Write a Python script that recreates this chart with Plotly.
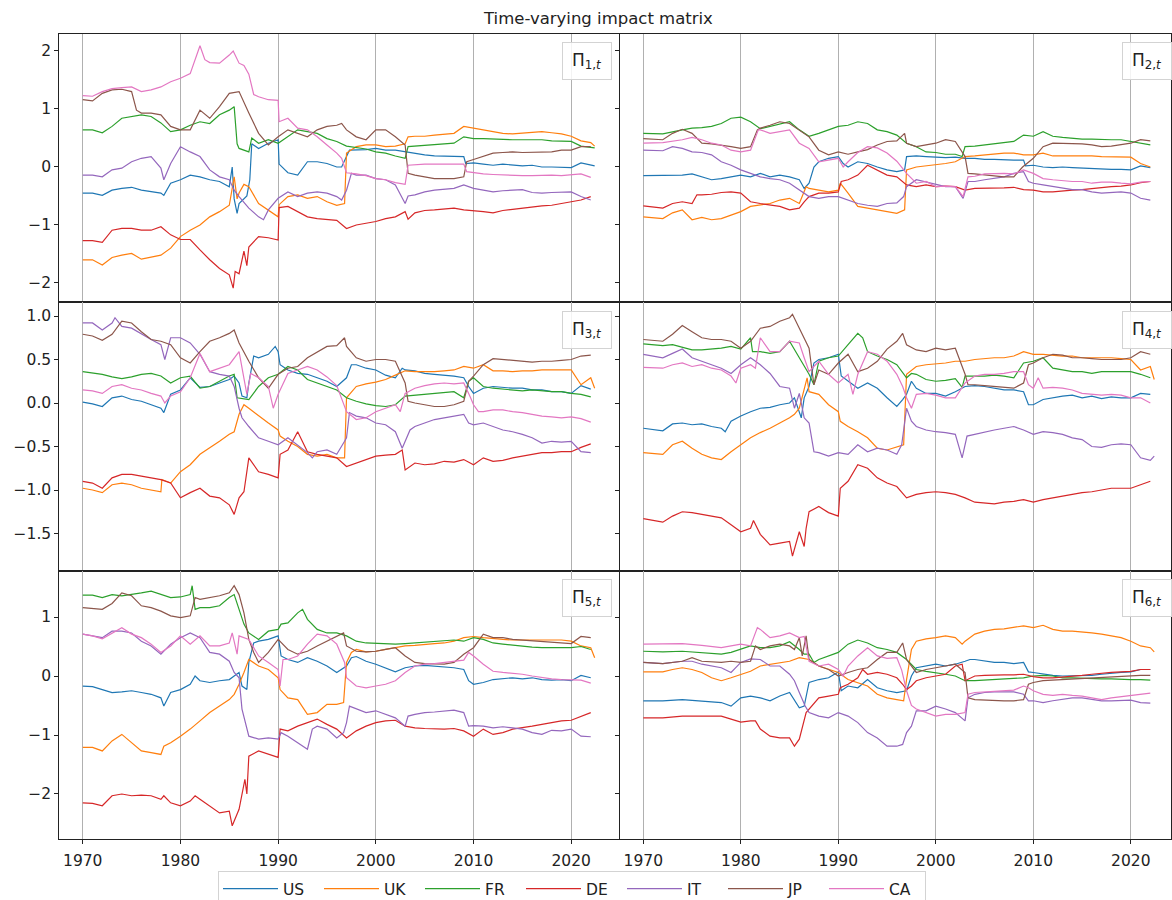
import plotly.graph_objects as go

# ---- series labels and colours ----
COUNTRIES = ["US", "UK", "FR", "DE", "IT", "JP", "CA"]
COLORS = ["#1f77b4", "#ff7f0e", "#2ca02c", "#d62728", "#9467bd", "#8c564b", "#e377c2"]
DECADES = [1970, 1980, 1990, 2000, 2010, 2020]
PANEL_LABELS = ["Π<sub>1,<i>t</i></sub>", "Π<sub>2,<i>t</i></sub>", "Π<sub>3,<i>t</i></sub>",
                "Π<sub>4,<i>t</i></sub>", "Π<sub>5,<i>t</i></sub>", "Π<sub>6,<i>t</i></sub>"]
ROW_TICKS = [[-2, -1, 0, 1, 2], [-1.5, -1.0, -0.5, 0.0, 0.5, 1.0], [-2, -1, 0, 1]]
ROW_DECIMALS = [0, 1, 0]

# ---- Pi_1,t : (year, value) ----
P1_US = [(1970,-0.45),(1971,-0.45),(1972,-0.49),(1973,-0.40),(1974,-0.37),(1975,-0.35),(1976,-0.40),(1977,-0.43),(1978,-0.45),(1978.3,-0.49),(1979,-0.28),(1980,-0.22),(1981,-0.14),(1982,-0.17),(1983,-0.22),(1984,-0.25),(1985,-0.34),(1985.3,0.0),(1985.5,-0.55),(1985.8,-0.8),(1986,-0.63),(1986.8,-0.5),(1987.1,-0.22),(1987.3,0.4),(1988,0.32),(1989,0.41),(1990,0.47),(1990.1,0.05),(1991,-0.10),(1992,-0.14),(1993,0.09),(1994,0.09),(1995,0.06),(1996,0.0),(1996.5,0.0),(1997.3,0.29),(1998,0.29),(1999,0.30),(2000,0.32),(2001,0.29),(2002,0.29),(2003,0.26),(2004,0.24),(2005,0.21),(2006,0.19),(2007,0.19),(2008,0.19),(2009,0.18),(2009.2,0.06),(2010,0.07),(2011,0.05),(2012,0.03),(2013,0.05),(2014,0.03),(2015,0.02),(2016,0.03),(2017,0.0),(2018,0.0),(2019,0.0),(2020,-0.01),(2021,0.07),(2022,0.03),(2022.4,0.02)]
P1_UK = [(1970,-1.60),(1971,-1.60),(1972,-1.69),(1973,-1.56),(1974,-1.52),(1975,-1.49),(1976,-1.59),(1977,-1.56),(1978,-1.52),(1979,-1.40),(1980,-1.20),(1981,-1.09),(1982,-1.0),(1983,-0.86),(1984,-0.77),(1985,-0.66),(1985.5,-0.17),(1985.8,-0.55),(1986,-0.45),(1986.5,-0.30),(1987,-0.34),(1988,-0.63),(1989,-0.74),(1990,-0.86),(1990.1,-0.65),(1991,-0.51),(1992,-0.48),(1993,-0.54),(1994,-0.51),(1995,-0.60),(1996,-0.66),(1996.8,-0.63),(1997,0.24),(1998,0.35),(1999,0.38),(2000,0.38),(2001,0.35),(2002,0.36),(2003,0.40),(2003.3,0.52),(2004,0.53),(2005,0.53),(2006,0.55),(2007,0.56),(2008,0.58),(2009,0.70),(2010,0.67),(2011,0.64),(2012,0.60),(2013,0.58),(2014,0.57),(2015,0.58),(2016,0.59),(2017,0.61),(2018,0.59),(2019,0.57),(2020,0.53),(2021,0.45),(2022,0.42),(2022.4,0.36)]
P1_FR = [(1970,0.64),(1971,0.64),(1972,0.59),(1973,0.70),(1974,0.84),(1975,0.87),(1976,0.90),(1977,0.87),(1978,0.76),(1979,0.61),(1980,0.64),(1981,0.72),(1982,0.78),(1983,0.75),(1984,0.90),(1985,0.98),(1985.5,1.04),(1985.8,0.40),(1986,0.32),(1987,0.26),(1987.3,0.50),(1988,0.41),(1989,0.47),(1990,0.41),(1991,0.52),(1992,0.64),(1993,0.61),(1994,0.58),(1995,0.49),(1996,0.44),(1997,0.36),(1998,0.34),(1999,0.31),(2000,0.26),(2001,0.24),(2002,0.19),(2003,0.15),(2003.3,0.35),(2004,0.36),(2005,0.38),(2006,0.39),(2007,0.40),(2008,0.41),(2009,0.52),(2010,0.49),(2011,0.49),(2012,0.48),(2013,0.48),(2014,0.47),(2015,0.47),(2016,0.47),(2017,0.47),(2018,0.45),(2019,0.45),(2020,0.44),(2021,0.36),(2022,0.34),(2022.4,0.33)]
P1_DE = [(1970,-1.27),(1971,-1.27),(1972,-1.30),(1973,-1.09),(1974,-1.06),(1975,-1.06),(1976,-1.09),(1977,-1.09),(1978,-1.03),(1979,-1.17),(1980,-1.25),(1981,-1.25),(1982,-1.43),(1983,-1.60),(1984,-1.75),(1985,-1.86),(1985.4,-2.09),(1985.6,-1.8),(1986,-1.84),(1986.5,-1.45),(1986.8,-1.7),(1987,-1.38),(1988,-1.20),(1989,-1.22),(1990,-1.26),(1990.1,-0.70),(1991,-0.68),(1992,-0.77),(1993,-0.86),(1994,-0.89),(1995,-0.91),(1996,-0.92),(1997,-1.06),(1998,-1.0),(1999,-0.97),(2000,-0.94),(2001,-0.89),(2002,-0.86),(2003,-0.77),(2003.3,-0.9),(2004,-0.79),(2005,-0.75),(2006,-0.74),(2007,-0.73),(2008,-0.71),(2009,-0.74),(2010,-0.75),(2011,-0.77),(2012,-0.79),(2013,-0.75),(2014,-0.73),(2015,-0.71),(2016,-0.68),(2017,-0.67),(2018,-0.66),(2019,-0.63),(2020,-0.61),(2021,-0.57),(2022,-0.51)]
P1_IT = [(1970,-0.14),(1971,-0.14),(1972,-0.17),(1973,-0.05),(1974,-0.02),(1975,0.09),(1976,0.15),(1977,0.18),(1978,-0.02),(1978.3,-0.22),(1979,0.06),(1980,0.35),(1981,0.26),(1982,0.18),(1983,-0.05),(1984,-0.17),(1985,-0.22),(1985.5,-0.40),(1986,-0.51),(1987,-0.71),(1988,-0.86),(1988.5,-0.91),(1989,-0.74),(1990,-0.54),(1991,-0.43),(1992,-0.51),(1993,-0.45),(1994,-0.43),(1995,-0.45),(1996,-0.51),(1996.5,-0.57),(1997,-0.40),(1997.5,-0.11),(1998,-0.14),(1999,-0.14),(2000,-0.20),(2001,-0.22),(2002,-0.31),(2003,-0.63),(2003.3,-0.50),(2004,-0.48),(2005,-0.43),(2006,-0.40),(2007,-0.39),(2008,-0.37),(2009,-0.31),(2010,-0.37),(2011,-0.40),(2012,-0.43),(2013,-0.41),(2014,-0.40),(2015,-0.39),(2016,-0.44),(2017,-0.45),(2018,-0.44),(2019,-0.43),(2020,-0.43),(2021,-0.51),(2022,-0.57)]
P1_JP = [(1970,1.16),(1971,1.14),(1972,1.27),(1973,1.33),(1974,1.34),(1975,1.30),(1975.5,0.98),(1976,0.93),(1977,0.93),(1978,0.90),(1979,0.70),(1980,0.64),(1981,0.64),(1982,0.98),(1983,0.84),(1984,1.04),(1985,1.27),(1986,1.30),(1987,0.93),(1988,0.58),(1989,0.38),(1990,0.52),(1991,0.64),(1992,0.58),(1993,0.52),(1994,0.64),(1995,0.70),(1996,0.72),(1996.5,0.75),(1997,0.64),(1998,0.52),(1999,0.47),(2000,0.64),(2001,0.64),(2002,0.52),(2003,0.38),(2003.3,-0.11),(2004,-0.14),(2005,-0.17),(2006,-0.20),(2007,-0.20),(2008,-0.20),(2009,-0.17),(2009.3,0.09),(2010,0.13),(2011,0.18),(2012,0.24),(2013,0.25),(2014,0.26),(2015,0.25),(2016,0.25),(2017,0.26),(2018,0.26),(2019,0.29),(2020,0.29),(2021,0.35),(2022,0.35)]
P1_CA = [(1970,1.23),(1971,1.22),(1972,1.30),(1973,1.35),(1974,1.37),(1975,1.38),(1976,1.30),(1977,1.33),(1978,1.38),(1979,1.47),(1980,1.53),(1981,1.61),(1982,2.09),(1982.5,1.85),(1983,1.80),(1984,1.79),(1985,1.93),(1985.4,2.0),(1986,1.79),(1986.5,1.75),(1987,1.60),(1987.5,1.25),(1988,1.21),(1989,1.16),(1990,1.15),(1990.1,0.78),(1991,0.84),(1992,0.67),(1993,0.64),(1994,0.52),(1995,0.38),(1996,0.24),(1996.5,0.15),(1997,-0.10),(1998,-0.12),(1999,-0.15),(2000,-0.20),(2001,-0.22),(2002,-0.27),(2003,-0.30),(2003.3,0.03),(2004,0.04),(2005,0.05),(2006,0.05),(2007,0.05),(2008,0.04),(2009,0.05),(2009.3,-0.08),(2010,-0.10),(2011,-0.12),(2012,-0.13),(2013,-0.14),(2014,-0.15),(2015,-0.15),(2016,-0.15),(2017,-0.14),(2018,-0.14),(2019,-0.15),(2020,-0.14),(2021,-0.12),(2022,-0.18)]

# ---- Pi_2,t ----
P2_US = [(1970,-0.15),(1972,-0.15),(1974,-0.14),(1975,-0.12),(1976,-0.17),(1977,-0.22),(1978,-0.20),(1979,-0.17),(1980,-0.14),(1981,-0.17),(1982,-0.11),(1983,-0.17),(1984,-0.14),(1985,-0.17),(1986,-0.22),(1986.5,-0.37),(1987,-0.28),(1987.5,0.0),(1988,0.09),(1989,0.15),(1990,0.18),(1990.5,0.06),(1991,0.0),(1992,0.09),(1993,0.06),(1994,0.0),(1995,-0.05),(1996,-0.08),(1996.8,-0.05),(1997,0.18),(1998,0.19),(1999,0.18),(2000,0.17),(2001,0.16),(2002,0.17),(2003,0.15),(2004,0.15),(2005,0.13),(2006,0.13),(2007,0.12),(2008,0.12),(2009,0.12),(2009.2,0.02),(2010,0.03),(2011,0.0),(2012,-0.01),(2013,0.0),(2014,-0.01),(2015,-0.02),(2016,-0.02),(2017,-0.04),(2018,-0.04),(2019,-0.04),(2020,-0.05),(2021,0.02),(2022,-0.01)]
P2_UK = [(1970,-0.86),(1972,-0.89),(1973,-0.79),(1974,-0.74),(1975,-0.91),(1976,-0.87),(1977,-0.91),(1978,-0.89),(1979,-0.83),(1980,-0.77),(1981,-0.68),(1982,-0.66),(1983,-0.63),(1984,-0.57),(1985,-0.54),(1986,-0.63),(1986.7,-0.34),(1987,-0.37),(1988,-0.40),(1989,-0.43),(1990,-0.40),(1990.2,-0.28),(1991,-0.45),(1992,-0.68),(1993,-0.71),(1994,-0.74),(1995,-0.77),(1996,-0.80),(1996.8,-0.74),(1997,-0.05),(1998,0.0),(1999,0.02),(2000,0.03),(2001,0.06),(2002,0.09),(2003,0.18),(2004,0.19),(2005,0.21),(2006,0.22),(2007,0.24),(2008,0.24),(2009,0.21),(2010,0.21),(2011,0.24),(2012,0.19),(2013,0.19),(2014,0.20),(2015,0.19),(2016,0.19),(2017,0.18),(2018,0.18),(2019,0.18),(2020,0.17),(2021,0.06),(2022,0.0)]
P2_FR = [(1970,0.58),(1972,0.57),(1974,0.64),(1975,0.67),(1976,0.68),(1977,0.70),(1978,0.75),(1979,0.84),(1980,0.86),(1981,0.78),(1982,0.66),(1983,0.70),(1984,0.75),(1985,0.78),(1986,0.64),(1987,0.53),(1988,0.58),(1989,0.64),(1990,0.70),(1991,0.72),(1992,0.78),(1993,0.75),(1994,0.64),(1995,0.61),(1996,0.55),(1997,0.41),(1998,0.35),(1999,0.26),(2000,0.25),(2001,0.22),(2002,0.22),(2002.7,0.18),(2003,0.35),(2004,0.36),(2005,0.38),(2006,0.40),(2007,0.42),(2008,0.44),(2009,0.55),(2010,0.53),(2011,0.61),(2012,0.53),(2013,0.51),(2014,0.49),(2015,0.48),(2016,0.48),(2017,0.47),(2018,0.47),(2019,0.47),(2020,0.44),(2021,0.41),(2022,0.38)]
P2_DE = [(1970,-0.67),(1972,-0.71),(1973,-0.63),(1974,-0.60),(1975,-0.63),(1975.5,-0.48),(1976,-0.48),(1977,-0.47),(1978,-0.44),(1979,-0.43),(1980,-0.45),(1981,-0.60),(1982,-0.63),(1983,-0.66),(1984,-0.68),(1985,-0.74),(1986,-0.71),(1986.5,-0.60),(1987,-0.51),(1988,-0.45),(1989,-0.45),(1990,-0.43),(1990.3,-0.25),(1991,-0.22),(1992,-0.14),(1993,0.03),(1994,-0.05),(1995,-0.14),(1996,-0.17),(1997,-0.31),(1998,-0.34),(1999,-0.31),(2000,-0.34),(2001,-0.33),(2002,-0.34),(2003,-0.40),(2004,-0.37),(2005,-0.37),(2006,-0.37),(2007,-0.36),(2008,-0.35),(2009,-0.39),(2010,-0.40),(2011,-0.43),(2012,-0.43),(2013,-0.41),(2014,-0.40),(2015,-0.39),(2016,-0.37),(2017,-0.35),(2018,-0.34),(2019,-0.33),(2020,-0.31),(2021,-0.27),(2022,-0.25)]
P2_IT = [(1970,0.29),(1972,0.28),(1973,0.35),(1974,0.32),(1975,0.26),(1976,0.25),(1977,0.21),(1978,0.09),(1979,0.03),(1980,-0.05),(1981,-0.11),(1982,-0.17),(1983,-0.20),(1984,-0.22),(1985,-0.28),(1986,-0.40),(1987,-0.51),(1988,-0.54),(1989,-0.51),(1990,-0.51),(1991,-0.57),(1992,-0.63),(1993,-0.66),(1994,-0.68),(1995,-0.63),(1996,-0.62),(1996.7,-0.51),(1997,-0.34),(1998,-0.22),(1999,-0.26),(2000,-0.31),(2001,-0.34),(2002,-0.34),(2002.8,-0.54),(2003.3,-0.25),(2004,-0.25),(2005,-0.22),(2006,-0.20),(2007,-0.17),(2008,-0.11),(2009,-0.08),(2009.5,-0.25),(2010,-0.28),(2011,-0.31),(2012,-0.34),(2013,-0.37),(2014,-0.39),(2015,-0.39),(2016,-0.43),(2017,-0.45),(2018,-0.44),(2019,-0.43),(2020,-0.45),(2021,-0.54),(2022,-0.57)]
P2_JP = [(1970,0.49),(1972,0.47),(1973,0.58),(1974,0.65),(1975,0.58),(1976,0.41),(1977,0.40),(1978,0.38),(1979,0.35),(1980,0.32),(1981,0.35),(1981.7,0.64),(1982,0.67),(1983,0.72),(1984,0.78),(1985,0.75),(1986,0.64),(1987,0.52),(1988,0.29),(1989,0.21),(1990,0.26),(1991,0.22),(1992,0.26),(1993,0.30),(1994,0.38),(1995,0.44),(1996,0.45),(1996.8,0.58),(1997,0.41),(1998,0.35),(1999,0.38),(2000,0.41),(2001,0.47),(2002,0.44),(2003,0.18),(2003.3,-0.11),(2004,-0.12),(2005,-0.14),(2006,-0.16),(2007,-0.17),(2008,-0.17),(2008.9,0.0),(2010,0.15),(2011,0.35),(2012,0.41),(2013,0.41),(2014,0.40),(2015,0.40),(2016,0.38),(2017,0.35),(2018,0.36),(2019,0.38),(2020,0.41),(2021,0.47),(2022,0.45)]
P2_CA = [(1970,0.41),(1972,0.42),(1974,0.47),(1975,0.51),(1976,0.47),(1977,0.41),(1978,0.38),(1979,0.29),(1980,0.26),(1981,0.29),(1981.8,0.64),(1982,0.64),(1983,0.58),(1984,0.61),(1985,0.64),(1986,0.41),(1987,0.32),(1988,0.09),(1989,0.12),(1990,0.15),(1990.5,0.0),(1991,0.09),(1992,0.25),(1993,0.35),(1994,0.33),(1995,0.24),(1996,0.10),(1997,-0.11),(1998,-0.28),(1999,-0.25),(2000,-0.34),(2001,-0.33),(2002,-0.34),(2002.8,-0.51),(2003.3,-0.17),(2004,-0.16),(2005,-0.12),(2006,-0.11),(2007,-0.11),(2008,-0.12),(2009,-0.05),(2010,-0.11),(2011,-0.20),(2012,-0.22),(2013,-0.24),(2014,-0.25),(2015,-0.25),(2016,-0.28),(2017,-0.26),(2018,-0.26),(2019,-0.28),(2020,-0.29),(2021,-0.26),(2022,-0.25)]

# ---- Pi_3,t ----
P3_US = [(1970,0.01),(1971,-0.01),(1972,-0.04),(1973,0.06),(1974,0.08),(1975,0.04),(1976,0.02),(1977,-0.02),(1978,-0.06),(1978.3,-0.11),(1979,0.10),(1980,0.15),(1981,0.29),(1982,0.18),(1983,0.19),(1984,0.23),(1985,0.27),(1985.5,0.31),(1986,0.23),(1986.3,0.08),(1986.8,0.06),(1987,0.23),(1987.5,0.54),(1988,0.52),(1989,0.56),(1989.7,0.65),(1990,0.59),(1990.2,0.44),(1991,0.38),(1992,0.34),(1993,0.33),(1994,0.29),(1995,0.25),(1996,0.19),(1997,0.29),(1997.5,0.44),(1998,0.44),(1999,0.40),(2000,0.38),(2001,0.32),(2002,0.29),(2002.7,0.40),(2003,0.38),(2004,0.37),(2005,0.34),(2006,0.33),(2007,0.32),(2008,0.31),(2009,0.29),(2009.5,0.19),(2010,0.11),(2011,0.17),(2012,0.19),(2013,0.18),(2014,0.17),(2015,0.17),(2016,0.15),(2017,0.15),(2018,0.13),(2019,0.13),(2020,0.11),(2021,0.20),(2022,0.16)]
P3_UK = [(1970,-0.98),(1971,-1.0),(1972,-1.03),(1973,-0.94),(1974,-0.92),(1975,-0.94),(1976,-0.98),(1977,-1.0),(1978,-1.02),(1978.1,-0.88),(1979,-0.92),(1980,-0.79),(1981,-0.71),(1982,-0.59),(1983,-0.52),(1984,-0.44),(1985,-0.36),(1985.5,-0.33),(1986,-0.13),(1986.5,-0.02),(1987,-0.06),(1988,-0.15),(1989,-0.23),(1990,-0.31),(1990.2,-0.38),(1991,-0.44),(1992,-0.50),(1993,-0.59),(1994,-0.61),(1995,-0.59),(1996,-0.63),(1996.8,-0.63),(1997,0.06),(1998,0.19),(1999,0.22),(2000,0.24),(2001,0.27),(2002,0.32),(2003,0.37),(2004,0.36),(2005,0.36),(2006,0.36),(2007,0.37),(2008,0.38),(2009,0.42),(2010,0.40),(2011,0.44),(2012,0.37),(2013,0.37),(2014,0.36),(2015,0.37),(2016,0.37),(2017,0.38),(2018,0.38),(2019,0.38),(2020,0.38),(2021,0.21),(2022,0.29),(2022.4,0.17)]
P3_FR = [(1970,0.36),(1972,0.33),(1973,0.30),(1974,0.28),(1975,0.30),(1976,0.33),(1977,0.34),(1978,0.31),(1979,0.23),(1980,0.29),(1981,0.31),(1982,0.17),(1983,0.19),(1984,0.25),(1985,0.31),(1985.5,0.33),(1985.8,0.06),(1987,0.04),(1988,0.19),(1989,0.29),(1990,0.33),(1991,0.42),(1992,0.38),(1993,0.27),(1994,0.23),(1995,0.19),(1996,0.15),(1997,0.06),(1998,0.02),(1999,-0.01),(2000,-0.03),(2001,-0.04),(2002,-0.02),(2003,0.08),(2004,0.09),(2005,0.10),(2006,0.11),(2007,0.12),(2008,0.13),(2009,0.06),(2009.5,0.25),(2010,0.29),(2011,0.19),(2012,0.17),(2013,0.16),(2014,0.15),(2015,0.14),(2016,0.15),(2017,0.14),(2018,0.13),(2019,0.13),(2020,0.11),(2021,0.10),(2022,0.07)]
P3_DE = [(1970,-0.90),(1971,-0.92),(1972,-0.98),(1973,-0.86),(1974,-0.82),(1975,-0.82),(1976,-0.84),(1977,-0.86),(1978,-0.88),(1979,-0.92),(1980,-1.09),(1981,-1.03),(1982,-0.98),(1983,-1.07),(1984,-1.09),(1985,-1.17),(1985.5,-1.28),(1986,-1.09),(1986.5,-1.02),(1987,-0.63),(1988,-0.79),(1989,-0.82),(1990,-0.86),(1990.2,-0.59),(1991,-0.54),(1992,-0.33),(1993,-0.56),(1994,-0.59),(1995,-0.61),(1996,-0.63),(1997,-0.73),(1998,-0.69),(1999,-0.65),(2000,-0.61),(2001,-0.60),(2002,-0.59),(2002.7,-0.54),(2003,-0.77),(2004,-0.69),(2005,-0.71),(2006,-0.70),(2007,-0.67),(2008,-0.68),(2009,-0.65),(2010,-0.71),(2011,-0.63),(2012,-0.67),(2013,-0.66),(2014,-0.63),(2015,-0.61),(2016,-0.59),(2017,-0.57),(2018,-0.57),(2019,-0.56),(2020,-0.56),(2021,-0.51),(2022,-0.47)]
P3_IT = [(1970,0.92),(1971,0.92),(1972,0.84),(1973,0.92),(1973.3,0.98),(1974,0.88),(1975,0.86),(1976,0.79),(1977,0.73),(1978,0.67),(1978.4,0.50),(1979,0.75),(1980,0.75),(1981,0.69),(1982,0.56),(1983,0.36),(1984,0.33),(1985,0.31),(1985.5,0.19),(1986,-0.06),(1986.3,-0.17),(1987,-0.27),(1988,-0.40),(1989,-0.44),(1990,-0.48),(1991,-0.40),(1992,-0.48),(1993,-0.57),(1993.5,-0.63),(1994,-0.56),(1995,-0.54),(1996,-0.59),(1996.8,-0.44),(1997,-0.40),(1997.3,-0.11),(1998,-0.15),(1999,-0.17),(2000,-0.23),(2001,-0.25),(2002,-0.33),(2002.7,-0.52),(2003.5,-0.31),(2004,-0.27),(2005,-0.23),(2006,-0.19),(2007,-0.17),(2008,-0.15),(2009,-0.13),(2009.5,-0.23),(2010,-0.25),(2011,-0.23),(2012,-0.27),(2013,-0.31),(2014,-0.33),(2015,-0.36),(2016,-0.40),(2017,-0.46),(2018,-0.44),(2019,-0.45),(2020,-0.44),(2021,-0.56),(2022,-0.57)]
P3_JP = [(1970,0.79),(1971,0.77),(1972,0.72),(1973,0.79),(1974,0.94),(1975,0.92),(1976,0.82),(1977,0.73),(1978,0.71),(1979,0.67),(1980,0.52),(1981,0.46),(1982,0.59),(1983,0.71),(1984,0.75),(1985,0.80),(1985.5,0.84),(1986,0.69),(1987,0.48),(1988,0.29),(1989,0.17),(1990,0.33),(1991,0.40),(1992,0.42),(1993,0.52),(1994,0.59),(1995,0.65),(1996,0.66),(1996.8,0.75),(1997,0.65),(1998,0.52),(1999,0.48),(2000,0.50),(2001,0.50),(2002,0.48),(2003,0.23),(2003.3,0.02),(2004,0.0),(2005,-0.02),(2006,-0.04),(2007,-0.04),(2008,-0.02),(2009,0.02),(2009.5,0.25),(2010,0.31),(2011,0.44),(2012,0.51),(2013,0.50),(2014,0.49),(2015,0.48),(2016,0.47),(2017,0.48),(2018,0.48),(2019,0.49),(2020,0.50),(2021,0.54),(2022,0.55)]
P3_CA = [(1970,0.15),(1971,0.14),(1972,0.11),(1973,0.19),(1974,0.21),(1975,0.17),(1976,0.15),(1977,0.11),(1978,0.08),(1978.4,0.0),(1979,0.08),(1980,0.13),(1981,0.29),(1982,0.57),(1983,0.36),(1984,0.40),(1985,0.44),(1986,0.59),(1986.8,0.10),(1987.2,0.34),(1988,0.29),(1989,0.19),(1989.5,-0.06),(1990,0.10),(1991,0.34),(1992,0.38),(1993,0.42),(1994,0.38),(1995,0.30),(1996,0.20),(1997,-0.10),(1998,-0.19),(1999,-0.17),(2000,-0.10),(2001,-0.06),(2002,-0.02),(2002.5,-0.10),(2003,0.11),(2004,0.17),(2005,0.20),(2006,0.22),(2007,0.23),(2008,0.22),(2009,0.23),(2009.7,0.06),(2010,-0.02),(2010.5,-0.10),(2011,-0.10),(2012,-0.08),(2013,-0.08),(2014,-0.10),(2015,-0.11),(2016,-0.13),(2017,-0.15),(2018,-0.16),(2019,-0.17),(2020,-0.16),(2021,-0.18),(2022,-0.22)]

# ---- Pi_4,t ----
P4_US = [(1970,-0.29),(1972,-0.32),(1973,-0.24),(1974,-0.23),(1975,-0.25),(1976,-0.24),(1977,-0.27),(1978,-0.29),(1978.4,-0.33),(1979,-0.21),(1980,-0.15),(1981,-0.10),(1982,-0.06),(1983,-0.05),(1984,-0.02),(1985,0.0),(1985.5,0.06),(1986,-0.10),(1986.2,-0.17),(1986.5,0.06),(1987,0.19),(1987.5,0.46),(1988,0.50),(1989,0.52),(1990,0.56),(1990.3,0.31),(1991,0.25),(1992,0.17),(1993,0.23),(1994,0.17),(1995,0.06),(1996,-0.04),(1996.6,0.04),(1997,0.10),(1997.5,0.25),(1998,0.17),(1999,0.11),(2000,0.11),(2001,0.08),(2002,0.13),(2003,0.19),(2004,0.20),(2005,0.19),(2006,0.17),(2007,0.15),(2008,0.15),(2009,0.13),(2009.5,-0.02),(2010,-0.02),(2011,0.04),(2012,0.06),(2013,0.08),(2014,0.09),(2015,0.06),(2016,0.08),(2017,0.05),(2018,0.07),(2019,0.06),(2020,0.06),(2021,0.11),(2022,0.10)]
P4_UK = [(1970,-0.57),(1972,-0.59),(1973,-0.48),(1974,-0.44),(1975,-0.52),(1976,-0.59),(1977,-0.63),(1978,-0.65),(1979,-0.56),(1980,-0.48),(1981,-0.40),(1982,-0.34),(1983,-0.29),(1984,-0.23),(1985,-0.17),(1985.5,-0.13),(1986,-0.06),(1986.8,0.29),(1987,0.13),(1988,0.10),(1989,-0.02),(1990,-0.10),(1990.2,-0.21),(1991,-0.27),(1992,-0.33),(1993,-0.40),(1994,-0.52),(1995,-0.54),(1996,-0.50),(1996.7,-0.48),(1997,0.33),(1998,0.42),(1999,0.44),(2000,0.45),(2001,0.46),(2002,0.48),(2003,0.48),(2004,0.50),(2005,0.51),(2006,0.52),(2007,0.52),(2008,0.54),(2009,0.59),(2010,0.56),(2011,0.56),(2012,0.55),(2013,0.54),(2014,0.54),(2015,0.52),(2016,0.52),(2017,0.52),(2018,0.52),(2019,0.51),(2020,0.50),(2021,0.38),(2022,0.42),(2022.4,0.27)]
P4_FR = [(1970,0.68),(1972,0.66),(1973,0.67),(1974,0.64),(1975,0.61),(1976,0.61),(1977,0.62),(1978,0.63),(1979,0.65),(1980,0.62),(1981,0.75),(1981.2,0.59),(1982,0.59),(1983,0.57),(1984,0.59),(1985,0.71),(1986,0.52),(1987,0.33),(1987.5,0.21),(1988,0.48),(1989,0.52),(1990,0.54),(1991,0.67),(1992,0.80),(1992.5,0.75),(1993,0.59),(1994,0.54),(1995,0.50),(1996,0.44),(1997,0.29),(1997.5,0.34),(1998,0.33),(1999,0.27),(2000,0.25),(2001,0.26),(2002,0.28),(2002.7,0.18),(2003,0.31),(2004,0.31),(2005,0.31),(2006,0.32),(2007,0.31),(2008,0.29),(2009,0.46),(2010,0.48),(2011,0.52),(2012,0.40),(2013,0.38),(2014,0.36),(2015,0.36),(2016,0.34),(2017,0.36),(2018,0.36),(2019,0.36),(2020,0.36),(2021,0.33),(2022,0.29)]
P4_DE = [(1970,-1.33),(1972,-1.37),(1973,-1.30),(1974,-1.25),(1975,-1.26),(1976,-1.28),(1977,-1.30),(1978,-1.32),(1979,-1.40),(1980,-1.48),(1981,-1.44),(1981.3,-1.35),(1982,-1.51),(1983,-1.63),(1984,-1.61),(1985,-1.59),(1985.3,-1.76),(1986,-1.48),(1986.5,-1.65),(1986.7,-1.44),(1987,-1.25),(1988,-1.19),(1989,-1.26),(1990,-1.30),(1990.2,-0.98),(1991,-0.90),(1992,-0.71),(1993,-0.75),(1994,-0.86),(1995,-0.92),(1996,-0.96),(1997,-1.09),(1998,-1.05),(1999,-1.03),(2000,-1.02),(2001,-1.03),(2002,-1.05),(2003,-1.09),(2004,-1.14),(2005,-1.15),(2006,-1.16),(2007,-1.14),(2008,-1.13),(2009,-1.11),(2010,-1.14),(2011,-1.11),(2012,-1.09),(2013,-1.07),(2014,-1.05),(2015,-1.03),(2016,-1.02),(2017,-1.0),(2018,-0.98),(2019,-0.98),(2020,-0.98),(2021,-0.94),(2022,-0.90)]
P4_IT = [(1970,0.56),(1972,0.52),(1973,0.57),(1974,0.62),(1975,0.52),(1976,0.48),(1977,0.44),(1978,0.40),(1979,0.34),(1980,0.44),(1981,0.52),(1982,0.44),(1983,0.34),(1984,0.19),(1985,0.17),(1985.5,-0.06),(1986,0.11),(1986.5,-0.17),(1987,-0.23),(1987.5,-0.56),(1988,-0.57),(1989,-0.61),(1990,-0.57),(1991,-0.59),(1992,-0.48),(1993,-0.56),(1994,-0.52),(1995,-0.54),(1996,-0.59),(1996.5,-0.48),(1997,-0.06),(1997.5,-0.21),(1998,-0.27),(1999,-0.31),(2000,-0.33),(2001,-0.34),(2002,-0.36),(2002.7,-0.63),(2003.2,-0.38),(2004,-0.36),(2005,-0.33),(2006,-0.31),(2007,-0.29),(2008,-0.27),(2009,-0.31),(2010,-0.36),(2011,-0.33),(2012,-0.34),(2013,-0.36),(2014,-0.40),(2015,-0.42),(2016,-0.50),(2017,-0.51),(2018,-0.48),(2019,-0.47),(2020,-0.48),(2021,-0.63),(2022,-0.66),(2022.4,-0.61)]
P4_JP = [(1970,0.73),(1972,0.71),(1973,0.79),(1974,0.89),(1975,0.82),(1976,0.75),(1977,0.73),(1978,0.73),(1979,0.71),(1980,0.63),(1981,0.71),(1982,0.86),(1983,0.88),(1984,0.94),(1985,0.98),(1985.3,1.02),(1986,0.86),(1987,0.63),(1987.5,0.21),(1988,0.38),(1989,0.33),(1990,0.46),(1991,0.56),(1992,0.36),(1993,0.40),(1994,0.48),(1995,0.62),(1996,0.71),(1996.6,0.80),(1997,0.67),(1998,0.61),(1999,0.59),(2000,0.63),(2001,0.61),(2002,0.63),(2003,0.33),(2003.3,0.21),(2004,0.21),(2005,0.20),(2006,0.19),(2007,0.18),(2008,0.17),(2009,0.23),(2009.5,0.44),(2010,0.46),(2011,0.52),(2012,0.56),(2013,0.55),(2014,0.52),(2015,0.52),(2016,0.51),(2017,0.50),(2018,0.50),(2019,0.50),(2020,0.52),(2021,0.59),(2022,0.56)]
P4_CA = [(1970,0.41),(1972,0.40),(1973,0.44),(1974,0.46),(1975,0.42),(1976,0.44),(1977,0.40),(1978,0.38),(1979,0.31),(1979.5,0.23),(1980,0.40),(1981,0.44),(1981.5,0.40),(1982,0.75),(1983,0.59),(1984,0.59),(1985,0.71),(1986,0.69),(1986.5,0.52),(1987,0.36),(1988,0.48),(1989,0.33),(1990,0.23),(1991,0.33),(1991.5,0.10),(1992,0.33),(1993,0.59),(1994,0.56),(1995,0.48),(1996,0.33),(1996.6,0.19),(1997,0.06),(1997.5,-0.06),(1998,0.10),(1999,0.11),(2000,0.09),(2001,0.06),(2002,0.06),(2003,0.23),(2004,0.31),(2005,0.33),(2006,0.33),(2007,0.34),(2008,0.36),(2009,0.36),(2009.5,0.21),(2010,0.17),(2010.5,0.29),(2011,0.17),(2012,0.18),(2013,0.17),(2014,0.15),(2015,0.11),(2016,0.10),(2017,0.09),(2018,0.10),(2019,0.09),(2020,0.06),(2021,0.06),(2022,0.0)]

# ---- Pi_5,t ----
P5_US = [(1970,-0.17),(1971,-0.18),(1972,-0.23),(1973,-0.28),(1974,-0.27),(1975,-0.25),(1976,-0.28),(1977,-0.31),(1978,-0.37),(1978.3,-0.51),(1979,-0.28),(1980,-0.23),(1981,-0.14),(1981.5,0.0),(1982,-0.08),(1983,-0.11),(1984,-0.08),(1985,-0.06),(1985.5,0.0),(1986,0.06),(1986.3,-0.17),(1986.8,-0.23),(1987,0.23),(1987.5,0.56),(1988,0.59),(1989,0.62),(1990,0.68),(1990.3,0.34),(1991,0.28),(1992,0.23),(1993,0.31),(1994,0.25),(1995,0.17),(1996,0.06),(1997,0.17),(1997.5,0.31),(1998,0.33),(1999,0.25),(2000,0.20),(2001,0.14),(2002,0.07),(2003,0.14),(2004,0.17),(2005,0.18),(2006,0.17),(2007,0.16),(2008,0.14),(2009,0.11),(2009.5,-0.08),(2010,-0.14),(2011,-0.11),(2012,-0.06),(2013,-0.05),(2014,-0.03),(2015,-0.05),(2016,-0.03),(2017,-0.06),(2018,-0.07),(2019,-0.06),(2020,-0.08),(2021,0.01),(2022,-0.03)]
P5_UK = [(1970,-1.21),(1971,-1.21),(1972,-1.27),(1973,-1.10),(1974,-0.99),(1975,-1.13),(1976,-1.27),(1977,-1.30),(1978,-1.33),(1978.3,-1.19),(1979,-1.13),(1980,-1.02),(1981,-0.90),(1982,-0.76),(1983,-0.62),(1984,-0.51),(1985,-0.40),(1985.5,-0.31),(1986,-0.14),(1986.5,0.06),(1987,0.28),(1988,0.17),(1989,0.11),(1990,-0.03),(1990.2,-0.23),(1991,-0.37),(1992,-0.40),(1993,-0.65),(1994,-0.62),(1995,-0.48),(1996,-0.48),(1996.7,-0.45),(1997,0.23),(1997.5,0.40),(1998,0.45),(1999,0.41),(2000,0.42),(2001,0.45),(2002,0.48),(2003,0.51),(2004,0.52),(2005,0.54),(2006,0.55),(2007,0.56),(2008,0.59),(2009,0.65),(2010,0.67),(2011,0.65),(2012,0.63),(2013,0.62),(2014,0.61),(2015,0.61),(2016,0.61),(2017,0.62),(2018,0.62),(2019,0.61),(2020,0.59),(2021,0.51),(2022,0.48),(2022.4,0.31)]
P5_FR = [(1970,1.37),(1971,1.37),(1972,1.33),(1973,1.38),(1974,1.36),(1975,1.38),(1976,1.41),(1977,1.44),(1978,1.38),(1979,1.33),(1980,1.34),(1981,1.38),(1981.2,1.53),(1981.5,1.13),(1982,1.16),(1983,1.16),(1984,1.19),(1985,1.33),(1985.5,1.38),(1986,1.13),(1986.5,0.88),(1987,0.73),(1988,0.62),(1989,0.76),(1990,0.79),(1990.3,0.88),(1991,0.90),(1992,1.07),(1992.5,1.13),(1993,0.96),(1994,0.79),(1995,0.73),(1996,0.73),(1997,0.68),(1998,0.59),(1999,0.56),(2000,0.55),(2001,0.54),(2002,0.54),(2003,0.55),(2004,0.56),(2005,0.58),(2006,0.58),(2007,0.59),(2008,0.61),(2009,0.59),(2010,0.65),(2011,0.62),(2012,0.56),(2013,0.54),(2014,0.52),(2015,0.51),(2016,0.49),(2017,0.48),(2018,0.48),(2019,0.48),(2020,0.48),(2021,0.50),(2022,0.45)]
P5_DE = [(1970,-2.15),(1971,-2.16),(1972,-2.20),(1973,-2.03),(1974,-2.0),(1975,-2.03),(1976,-2.02),(1977,-2.03),(1978,-2.09),(1978.3,-2.03),(1979,-2.15),(1980,-2.20),(1981,-2.12),(1981.5,-2.03),(1982,-2.09),(1983,-2.20),(1984,-2.32),(1985,-2.29),(1985.3,-2.54),(1986,-2.26),(1986.6,-1.75),(1986.8,-2.0),(1987,-1.36),(1988,-1.27),(1989,-1.33),(1990,-1.38),(1990.2,-0.90),(1991,-0.93),(1992,-0.85),(1993,-0.79),(1994,-0.73),(1995,-0.82),(1996,-0.90),(1997,-1.05),(1998,-0.93),(1999,-0.85),(2000,-0.79),(2001,-0.76),(2002,-0.75),(2003,-0.85),(2004,-0.88),(2005,-0.89),(2006,-0.90),(2007,-0.90),(2008,-0.89),(2009,-0.93),(2010,-1.02),(2011,-0.90),(2012,-0.99),(2013,-0.96),(2014,-0.90),(2015,-0.88),(2016,-0.85),(2017,-0.82),(2018,-0.79),(2019,-0.76),(2020,-0.75),(2021,-0.68),(2022,-0.62)]
P5_IT = [(1970,0.71),(1971,0.68),(1972,0.65),(1973,0.76),(1974,0.76),(1975,0.73),(1976,0.59),(1977,0.51),(1978,0.37),(1979,0.54),(1980,0.65),(1981,0.73),(1982,0.65),(1983,0.40),(1984,0.37),(1985,0.25),(1985.5,0.06),(1986,-0.03),(1986.3,-0.56),(1987,-1.02),(1988,-1.07),(1989,-1.05),(1990,-1.07),(1990.3,-0.96),(1991,-1.02),(1992,-1.13),(1993,-1.24),(1993.5,-0.90),(1994,-0.85),(1995,-0.90),(1996,-1.05),(1996.7,-0.96),(1997,-0.79),(1997.3,-0.51),(1998,-0.56),(1999,-0.62),(2000,-0.59),(2001,-0.65),(2002,-0.71),(2003,-0.85),(2003.3,-0.68),(2004,-0.65),(2005,-0.62),(2006,-0.61),(2007,-0.59),(2008,-0.58),(2009,-0.62),(2009.5,-0.85),(2010,-0.84),(2011,-0.85),(2012,-0.88),(2013,-0.86),(2014,-0.88),(2015,-0.90),(2016,-0.96),(2017,-0.99),(2018,-0.92),(2019,-0.93),(2020,-0.90),(2021,-1.02),(2022,-1.03)]
P5_JP = [(1970,1.16),(1971,1.14),(1972,1.13),(1973,1.23),(1974,1.41),(1975,1.36),(1976,1.19),(1977,1.16),(1978,1.10),(1979,1.02),(1980,0.99),(1981,1.02),(1981.5,1.33),(1982,1.30),(1983,1.33),(1984,1.36),(1985,1.41),(1985.5,1.53),(1986,1.38),(1986.5,1.07),(1987,0.62),(1987.5,0.40),(1988,0.23),(1989,0.40),(1990,0.62),(1991,0.45),(1992,0.37),(1993,0.42),(1994,0.51),(1995,0.59),(1996,0.68),(1996.7,0.73),(1997,0.51),(1998,0.42),(1999,0.41),(2000,0.42),(2001,0.45),(2002,0.48),(2003,0.34),(2004,0.23),(2005,0.21),(2006,0.21),(2007,0.20),(2008,0.23),(2009,0.37),(2010,0.48),(2011,0.71),(2012,0.65),(2013,0.65),(2014,0.62),(2015,0.61),(2016,0.59),(2017,0.59),(2018,0.58),(2019,0.56),(2020,0.55),(2021,0.67),(2022,0.65)]
P5_CA = [(1970,0.71),(1971,0.68),(1972,0.63),(1973,0.73),(1974,0.82),(1975,0.71),(1976,0.65),(1977,0.54),(1978,0.40),(1979,0.51),(1980,0.68),(1981,0.54),(1982,0.68),(1983,0.51),(1984,0.51),(1985,0.56),(1985.3,0.73),(1985.8,0.37),(1986,0.68),(1987,0.62),(1988,0.34),(1989,0.23),(1990,0.11),(1990.2,-0.17),(1990.5,0.28),(1991,0.28),(1992,0.34),(1993,0.54),(1994,0.71),(1995,0.68),(1996,0.54),(1996.8,0.23),(1997,-0.03),(1998,-0.17),(1999,-0.20),(2000,-0.17),(2001,-0.14),(2002,-0.08),(2003,0.06),(2004,0.17),(2005,0.20),(2006,0.21),(2007,0.23),(2008,0.24),(2009,0.27),(2009.5,0.40),(2010,0.34),(2011,0.20),(2012,0.08),(2013,0.06),(2014,0.05),(2015,0.03),(2016,0.0),(2017,-0.03),(2018,-0.05),(2019,-0.06),(2020,-0.06),(2021,-0.07),(2022,-0.12)]

# ---- Pi_6,t ----
P6_US = [(1970,-0.42),(1972,-0.42),(1974,-0.40),(1976,-0.42),(1978,-0.45),(1979,-0.51),(1980,-0.37),(1981,-0.34),(1982,-0.37),(1983,-0.42),(1984,-0.34),(1985,-0.28),(1986,-0.54),(1986.5,-0.51),(1987,-0.11),(1988,-0.06),(1989,-0.03),(1990,0.07),(1990.3,-0.25),(1991,-0.17),(1992,-0.20),(1993,-0.06),(1994,-0.20),(1995,-0.25),(1996,-0.28),(1997,-0.25),(1997.5,0.0),(1998,0.14),(1999,0.17),(2000,0.20),(2001,0.17),(2002,0.20),(2003,0.25),(2003.5,0.28),(2004,0.28),(2005,0.25),(2006,0.23),(2007,0.23),(2008,0.21),(2009,0.23),(2009.5,0.07),(2010,0.06),(2011,0.03),(2012,0.01),(2013,0.0),(2014,0.0),(2015,0.0),(2016,0.01),(2017,0.03),(2018,0.05),(2019,0.06),(2020,0.07),(2021,0.11),(2022,0.11)]
P6_UK = [(1970,0.07),(1972,0.07),(1973,0.11),(1974,0.14),(1975,0.11),(1976,0.06),(1977,-0.03),(1978,-0.08),(1979,-0.03),(1980,0.03),(1981,0.08),(1982,0.17),(1983,0.20),(1984,0.23),(1985,0.25),(1986,0.31),(1987,0.28),(1988,0.17),(1989,0.11),(1990,0.06),(1991,-0.06),(1992,-0.11),(1993,-0.17),(1994,-0.31),(1995,-0.37),(1996,-0.40),(1996.7,-0.42),(1997,-0.06),(1997.5,0.45),(1998,0.59),(1999,0.63),(2000,0.65),(2001,0.68),(2002,0.65),(2002.7,0.54),(2003,0.59),(2004,0.71),(2005,0.76),(2006,0.79),(2007,0.80),(2008,0.82),(2009,0.85),(2010,0.82),(2011,0.86),(2012,0.79),(2013,0.76),(2014,0.76),(2015,0.75),(2016,0.73),(2017,0.71),(2018,0.68),(2019,0.65),(2020,0.59),(2021,0.51),(2022,0.48),(2022.4,0.41)]
P6_FR = [(1970,0.42),(1972,0.41),(1974,0.42),(1976,0.40),(1978,0.37),(1979,0.40),(1980,0.45),(1981,0.51),(1982,0.48),(1983,0.48),(1984,0.51),(1985,0.58),(1986,0.45),(1986.5,0.37),(1987,0.37),(1987.5,0.23),(1988,0.28),(1989,0.34),(1990,0.40),(1991,0.54),(1992,0.61),(1993,0.56),(1994,0.48),(1995,0.45),(1996,0.40),(1997,0.28),(1998,0.11),(1999,0.08),(2000,0.06),(2001,0.03),(2002,0.0),(2003,-0.08),(2004,-0.08),(2005,-0.07),(2006,-0.06),(2007,-0.05),(2008,-0.05),(2009,-0.03),(2010,0.0),(2011,0.01),(2012,0.0),(2013,-0.03),(2014,-0.03),(2015,-0.04),(2016,-0.04),(2017,-0.05),(2018,-0.05),(2019,-0.06),(2020,-0.06),(2021,-0.06),(2022,-0.07)]
P6_DE = [(1970,-0.71),(1972,-0.71),(1974,-0.68),(1976,-0.68),(1978,-0.68),(1979,-0.73),(1980,-0.78),(1981,-0.76),(1981.5,-0.76),(1982,-0.90),(1983,-1.02),(1984,-1.05),(1985,-1.05),(1985.5,-1.19),(1986,-1.07),(1986.7,-0.62),(1987,-0.56),(1988,-0.37),(1989,-0.34),(1990,-0.31),(1990.2,-0.20),(1991,-0.14),(1992,-0.03),(1992.5,0.11),(1993,0.03),(1994,0.06),(1995,0.03),(1996,-0.03),(1996.6,-0.14),(1997,-0.23),(1997.5,-0.17),(1998,-0.08),(1999,-0.03),(2000,0.0),(2001,0.03),(2002,0.17),(2002.7,0.20),(2003,-0.08),(2004,0.0),(2005,0.01),(2006,0.02),(2007,0.02),(2008,0.02),(2009,0.03),(2010,-0.01),(2011,-0.03),(2012,-0.03),(2013,-0.02),(2014,0.0),(2015,0.01),(2016,0.03),(2017,0.05),(2018,0.06),(2019,0.07),(2020,0.08),(2021,0.11),(2022,0.11)]
P6_IT = [(1970,0.23),(1972,0.21),(1974,0.25),(1975,0.25),(1976,0.20),(1978,0.14),(1979,0.06),(1980,0.23),(1981,0.29),(1982,0.28),(1983,0.17),(1984,0.17),(1985,0.03),(1985.5,-0.08),(1986,-0.28),(1986.6,-0.51),(1987,-0.62),(1988,-0.68),(1989,-0.71),(1990,-0.62),(1991,-0.68),(1992,-0.79),(1993,-0.96),(1994,-1.05),(1995,-1.19),(1996,-1.19),(1996.6,-1.16),(1997,-0.96),(1997.5,-0.85),(1998,-0.59),(1999,-0.59),(2000,-0.51),(2001,-0.56),(2002,-0.62),(2003,-0.76),(2003.3,-0.37),(2004,-0.31),(2005,-0.28),(2006,-0.27),(2007,-0.27),(2008,-0.27),(2009,-0.31),(2009.5,-0.42),(2010,-0.42),(2011,-0.45),(2012,-0.42),(2013,-0.40),(2014,-0.37),(2015,-0.37),(2016,-0.40),(2017,-0.42),(2018,-0.42),(2019,-0.42),(2020,-0.41),(2021,-0.45),(2022,-0.46)]
P6_JP = [(1970,0.23),(1972,0.21),(1974,0.25),(1975,0.31),(1976,0.25),(1978,0.23),(1979,0.25),(1980,0.23),(1981,0.25),(1981.5,0.51),(1982,0.45),(1983,0.51),(1984,0.54),(1985,0.51),(1985.5,0.45),(1986,0.65),(1986.3,0.34),(1986.7,0.68),(1987,0.28),(1988,0.17),(1989,0.11),(1990,0.0),(1991,0.06),(1992,0.11),(1993,0.14),(1994,0.28),(1995,0.40),(1996,0.40),(1996.6,0.56),(1997,0.28),(1998,0.06),(1999,0.11),(2000,0.14),(2001,0.17),(2002,0.20),(2003,0.06),(2003.3,-0.37),(2004,-0.40),(2005,-0.41),(2006,-0.42),(2007,-0.42),(2008,-0.42),(2009,-0.40),(2009.5,-0.14),(2010,-0.11),(2011,-0.08),(2012,-0.07),(2013,-0.06),(2014,-0.05),(2015,-0.05),(2016,-0.03),(2017,-0.03),(2018,-0.02),(2019,-0.01),(2020,0.0),(2021,0.01),(2022,0.01)]
P6_CA = [(1970,0.54),(1972,0.54),(1974,0.55),(1976,0.52),(1978,0.48),(1979,0.51),(1980,0.54),(1981,0.51),(1981.7,0.82),(1982,0.79),(1983,0.65),(1984,0.68),(1984.5,0.71),(1985,0.73),(1986,0.65),(1986.5,0.67),(1987,0.25),(1988,0.17),(1989,0.20),(1990,0.11),(1990.5,0.0),(1991,0.17),(1992,0.34),(1993,0.48),(1994,0.34),(1995,0.30),(1996,0.31),(1996.5,0.10),(1997,-0.25),(1997.5,-0.50),(1998,-0.56),(1999,-0.62),(2000,-0.68),(2001,-0.65),(2002,-0.65),(2003,-0.62),(2003.3,-0.31),(2004,-0.28),(2005,-0.27),(2006,-0.25),(2007,-0.24),(2008,-0.24),(2009,-0.17),(2009.5,-0.20),(2010,-0.25),(2011,-0.31),(2012,-0.33),(2013,-0.31),(2014,-0.33),(2015,-0.34),(2016,-0.37),(2017,-0.40),(2018,-0.37),(2019,-0.35),(2020,-0.34),(2021,-0.31),(2022,-0.29)]

PANELS = [
    [P1_US, P1_UK, P1_FR, P1_DE, P1_IT, P1_JP, P1_CA],
    [P2_US, P2_UK, P2_FR, P2_DE, P2_IT, P2_JP, P2_CA],
    [P3_US, P3_UK, P3_FR, P3_DE, P3_IT, P3_JP, P3_CA],
    [P4_US, P4_UK, P4_FR, P4_DE, P4_IT, P4_JP, P4_CA],
    [P5_US, P5_UK, P5_FR, P5_DE, P5_IT, P5_JP, P5_CA],
    [P6_US, P6_UK, P6_FR, P6_DE, P6_IT, P6_JP, P6_CA],
]

# ---- figure geometry (pixels in a 1172 x 900 canvas) ----
W, H = 1172, 900
COL_PX = [(59.3, 618.7), (619.7, 1171.0)]
ROW_PX = [(34, 302), (302, 571), (571, 839)]
COL_XRANGE = [[1967.6, 2024.86], [1967.58, 2024.12]]
ROW_YRANGE = [[-2.328, 2.293], [-1.931, 1.161], [-2.763, 1.78]]

FONT = "DejaVu Sans"
TXT = "#222222"


def fmt_tick(v, dec):
    s = f"{abs(v):.{dec}f}"
    return ("\u2212" + s) if v < 0 else s


fig = go.Figure()
layout = {}
for i, series in enumerate(PANELS):
    r, c = divmod(i, 2)
    sfx = "" if i == 0 else str(i + 1)
    xa, ya = "x" + sfx, "y" + sfx
    for k, pts in enumerate(series):
        xs, ys = zip(*pts)
        fig.add_trace(go.Scatter(
            x=list(xs), y=list(ys), mode="lines", name=COUNTRIES[k],
            line=dict(color=COLORS[k], width=1.2),
            xaxis=xa, yaxis=ya, legendgroup=COUNTRIES[k], showlegend=(i == 0),
        ))
    x0, x1 = COL_PX[c]
    y0, y1 = ROW_PX[r]
    layout["xaxis" + sfx] = dict(
        domain=[x0 / W, x1 / W], anchor=ya, range=COL_XRANGE[c],
        tickvals=DECADES, ticktext=[str(d) for d in DECADES],
        showticklabels=(r == 2), ticks="outside", ticklen=4, tickwidth=1, tickcolor="#222",
        ticklabelstandoff=3,
        showgrid=True, gridcolor="#b0b0b0", gridwidth=1, zeroline=False,
        showline=True, linecolor="#222", linewidth=1, mirror=True,
        tickfont=dict(family=FONT, size=15.5, color=TXT),
    )
    layout["yaxis" + sfx] = dict(
        domain=[1 - y1 / H, 1 - y0 / H], anchor=xa, range=ROW_YRANGE[r],
        tickvals=ROW_TICKS[r], ticktext=[fmt_tick(v, ROW_DECIMALS[r]) for v in ROW_TICKS[r]],
        showticklabels=(c == 0), ticks="outside", ticklen=4, tickwidth=1, tickcolor="#222",
        showgrid=False, zeroline=False,
        showline=True, linecolor="#222", linewidth=1, mirror=True,
        tickfont=dict(family=FONT, size=15.5, color=TXT),
    )

# panel labels in framed boxes at the top-right corner of each panel
LABEL_POS = [(587, 60.7), (1146.7, 60.7), (587, 329.7), (1146.7, 329.7), (587, 597.7), (1146.7, 597.7)]
annotations = []
for (px, py), lab in zip(LABEL_POS, PANEL_LABELS):
    annotations.append(dict(
        x=px / W, y=1 - py / H, xref="paper", yref="paper", xanchor="center", yanchor="middle",
        text=lab, showarrow=False, font=dict(family=FONT, size=17, color=TXT),
        bordercolor="#d3d3d3", borderwidth=1, borderpad=5, bgcolor="rgba(255,255,255,0.85)",
        width=38, height=26,
    ))
annotations.append(dict(
    x=598 / W, y=1 - 18 / H, xref="paper", yref="paper", xanchor="center", yanchor="middle",
    text="Time-varying impact matrix", showarrow=False, font=dict(family=FONT, size=16.5, color=TXT),
))

fig.update_layout(
    width=W, height=H, margin=dict(l=0, r=0, t=0, b=0, autoexpand=False),
    paper_bgcolor="white", plot_bgcolor="white",
    annotations=annotations,
    legend=dict(
        orientation="h", x=218 / W, xanchor="left", y=1 - 871 / H, yanchor="top",
        bordercolor="#d3d3d3", borderwidth=1, bgcolor="white",
        font=dict(family=FONT, size=15.5, color=TXT),
        entrywidth=31, entrywidthmode="pixels", itemwidth=55,
        tracegroupgap=0,
    ),
    **layout,
)

fig.write_html("out.html")
